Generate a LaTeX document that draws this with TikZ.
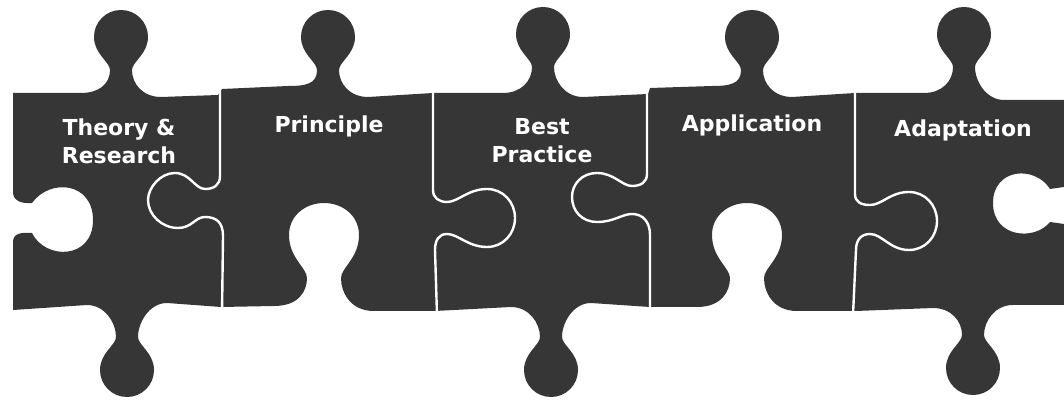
\documentclass[tikz,border=0pt]{standalone}
\usepackage{fontspec}
\setsansfont{DejaVu Sans}
\definecolor{piece}{HTML}{363636}

\begin{document}
\begin{tikzpicture}[x=0.75pt,y=-0.75pt,% one unit is one pixel of the picture, y runs down
		every node/.style={
			align=center,	% use this so that the "\\" for line break works
			text=white,
			inner sep=0pt,
			font=\sffamily\bfseries\fontsize{16.5}{21}\selectfont
		},
		joint/.style={draw=white,line width=1.8pt},
		% {centre}{top of head}{edge left}{edge right}
		top knob/.style n args={4}{insert path={
			-- ({#1-40},#3) .. controls ({#1-22},#3) and ({#1-11},{#2+74}) .. ({#1-11},{#2+60})
			.. controls ({#1-11},{#2+52}) and ({#1-27},{#2+44}) .. ({#1-27},{#2+27})
			.. controls ({#1-27},{#2+12}) and ({#1-15},#2) .. (#1,#2)
			.. controls ({#1+15},#2) and ({#1+27},{#2+12}) .. ({#1+27},{#2+27})
			.. controls ({#1+27},{#2+44}) and ({#1+11},{#2+52}) .. ({#1+11},{#2+60})
			.. controls ({#1+11},{#2+74}) and ({#1+22},#4) .. ({#1+40},#4)}},
		% {centre}{bottom of head}{edge right}{edge left}, drawn right to left
		bottom knob/.style n args={4}{insert path={
			-- ({#1+40},#3) .. controls ({#1+22},#3) and ({#1+11},{#2-74}) .. ({#1+11},{#2-60})
			.. controls ({#1+11},{#2-52}) and ({#1+27},{#2-44}) .. ({#1+27},{#2-27})
			.. controls ({#1+27},{#2-12}) and ({#1+15},#2) .. (#1,#2)
			.. controls ({#1-15},#2) and ({#1-27},{#2-12}) .. ({#1-27},{#2-27})
			.. controls ({#1-27},{#2-44}) and ({#1-11},{#2-52}) .. ({#1-11},{#2-60})
			.. controls ({#1-11},{#2-74}) and ({#1-22},#4) .. ({#1-40},#4)}},
		% {centre}{top of hole}{edge right}{edge left}, drawn right to left
		bottom hole/.style n args={4}{insert path={
			-- ({#1+50},#3) .. controls ({#1+26},#3) and ({#1+17},{#2+89}) .. ({#1+17},{#2+75})
			.. controls ({#1+17},{#2+65}) and ({#1+35},{#2+55}) .. ({#1+35},{#2+32})
			.. controls ({#1+35},{#2+13}) and ({#1+19},#2) .. (#1,#2)
			.. controls ({#1-19},#2) and ({#1-35},{#2+13}) .. ({#1-35},{#2+32})
			.. controls ({#1-35},{#2+55}) and ({#1-17},{#2+65}) .. ({#1-17},{#2+75})
			.. controls ({#1-17},{#2+89}) and ({#1-26},#4) .. ({#1-50},#4)}}
	]
	\useasboundingbox (0,0) rectangle (1064,402);

	% the five pieces as one shape
	\fill[piece] (13,93)
		[top knob={121}{10}{93}{97}] -- (218,95) -- (222,89)
		[top knob={328}{10}{86}{97}] -- (433,93)
		[top knob={543}{7}{93}{97}] -- (648,94) -- (650,88)
		[top knob={752}{10}{86}{97}] -- (855,93)
		[top knob={964}{7}{93}{100}] -- (1064,100)
		% right side, hole of the last piece
		-- (1064,187) -- (1050,189) .. controls (1035,165) and (993,168) .. (993,203)
		.. controls (993,238) and (1035,241) .. (1050,222) -- (1064,224)
		-- (1064,305)
		% bottom edge
		[bottom knob={973}{395}{305}{308}] -- (856,311)
		[bottom hole={747}{203}{311}{307}] -- (650,307)
		[bottom knob={551}{397}{303}{307}] -- (435,311)
		[bottom hole={324}{203}{311}{306}] -- (221,307)
		[bottom knob={127}{397}{303}{305}] -- (13,310)
		% left side, hole of the first piece
		-- (13,242) .. controls (13,234) and (20,232) .. (32,233)
		.. controls (45,260) and (93,260) .. (93,220)
		.. controls (93,182) and (50,178) .. (32,203)
		.. controls (20,204) and (13,200) .. (13,192) -- cycle;

	% joints between the pieces
	\draw[joint] (220,85) -- (220,176) .. controls (220,185) and (214,189) .. (205,189)
		.. controls (195,189) and (190,173) .. (175,173)
		.. controls (160,173) and (148,188) .. (148,200)
		.. controls (148,215) and (162,228) .. (178,228)
		.. controls (192,228) and (195,217) .. (205,217)
		.. controls (216,217) and (223,222) .. (223,236) -- (222,315);
	\draw[joint] (433,85) -- (433,190) .. controls (433,198) and (439,202) .. (447,202)
		.. controls (458,202) and (468,189) .. (487,189)
		.. controls (503,189) and (515,202) .. (515,218)
		.. controls (515,234) and (503,247) .. (487,247)
		.. controls (468,247) and (458,234) .. (447,234)
		.. controls (439,234) and (435,240) .. (435,250) -- (437,315);
	\draw[joint] (647,85) -- (647,174) .. controls (647,182) and (641,186) .. (632,186)
		.. controls (622,186) and (614,173) .. (597,173)
		.. controls (582,173) and (572,184) .. (572,197)
		.. controls (572,211) and (582,222) .. (597,222)
		.. controls (614,222) and (622,214) .. (632,214)
		.. controls (643,214) and (650,222) .. (650,235) -- (650,315);
	\draw[joint] (855,85) -- (855,194) .. controls (855,202) and (861,205) .. (870,205)
		.. controls (882,205) and (890,192) .. (909,192)
		.. controls (925,192) and (937,205) .. (937,221)
		.. controls (937,237) and (925,250) .. (909,250)
		.. controls (890,250) and (882,234) .. (870,234)
		.. controls (861,234) and (856,240) .. (856,250) -- (853,315);

	% labels
	\node (theory) at (119,141) {Theory \&\\Research};
	\node[anchor=base] (principle) at (329,133) {Principle};
	\node (best) at (542,141) {Best\\Practice};
	\node[anchor=base] (application) at (752,132) {Application};
	\node[anchor=base] (adaptation) at (963,137) {Adaptation};
\end{tikzpicture}
\end{document}
